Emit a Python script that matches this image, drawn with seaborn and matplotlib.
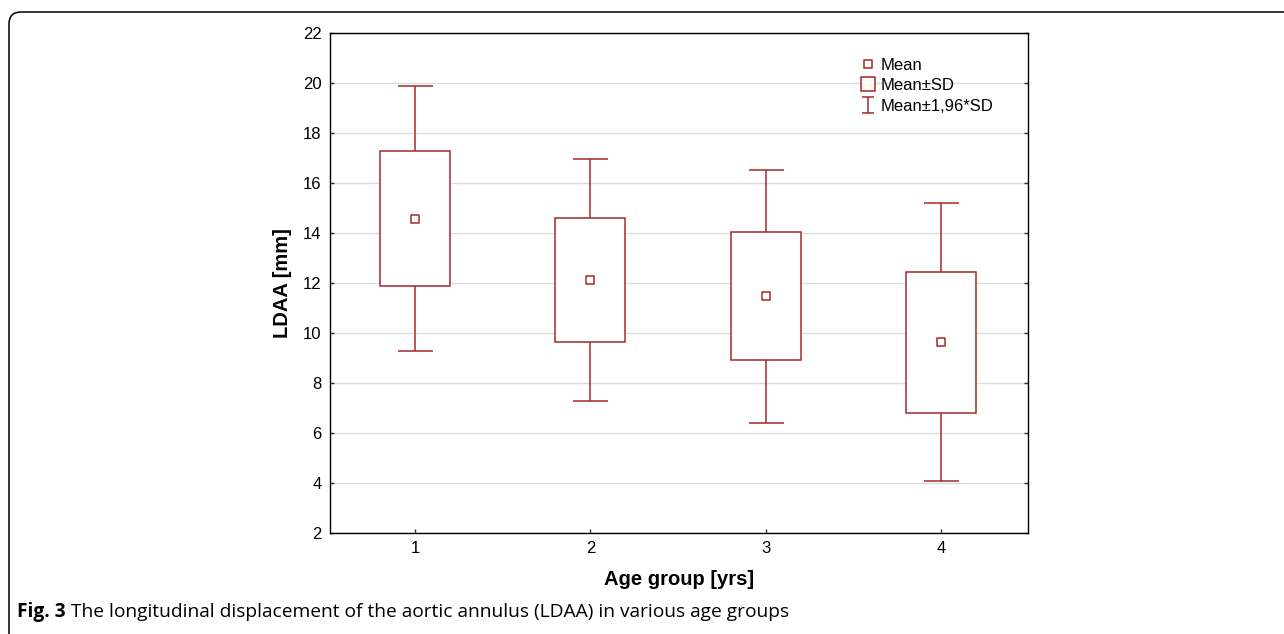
import numpy as np
import pandas as pd
import seaborn as sns
import matplotlib.pyplot as plt
from matplotlib.lines import Line2D
from matplotlib.patches import FancyBboxPatch
from matplotlib.transforms import IdentityTransform

# Values (LDAA, mm)
age_groups = [1, 2, 3, 4]
means = [14.58, 12.13, 11.47, 9.63]
sd_low = [11.88, 9.66, 8.92, 6.81]
sd_high = [17.28, 14.60, 14.04, 12.46]
ci_low = [9.28, 7.30, 6.42, 4.07]
ci_high = [19.88, 16.95, 16.52, 15.19]

df = pd.DataFrame({"group": age_groups, "mean": means,
                   "sd_low": sd_low, "sd_high": sd_high,
                   "ci_low": ci_low, "ci_high": ci_high})

red = "#a52a2a"
sns.set_style("ticks")
plt.rcParams["font.family"] = ["Liberation Sans", "DejaVu Sans"]
plt.rcParams.update({"text.color": "black", "axes.labelcolor": "black",
                     "xtick.color": "black", "ytick.color": "black"})

fig = plt.figure(figsize=(12.84, 6.34), dpi=100)
ax = fig.add_axes([0.257, 0.1593, 0.5436, 0.7886])

# whiskers: mean +- 1.96*SD
ax.errorbar(df["group"], df["mean"],
            yerr=[df["mean"] - df["ci_low"], df["ci_high"] - df["mean"]],
            fmt="none", ecolor=red, elinewidth=1.1, capsize=12.6, capthick=1.1, zorder=2)

# boxes: mean +- SD
ax.bar(df["group"], df["sd_high"] - df["sd_low"], bottom=df["sd_low"], width=0.4,
       facecolor="white", edgecolor=red, linewidth=1.1, zorder=3)

# mean markers
sns.scatterplot(data=df, x="group", y="mean", ax=ax, marker="s", s=40,
                facecolor="white", edgecolor=red, linewidth=1.1, zorder=4)

ax.set_xlim(0.515, 4.495)
ax.set_ylim(2, 22)
ax.set_xticks(age_groups)
ax.set_yticks(np.arange(2, 23, 2))
ax.grid(axis="y", color="#dcdcdc", linewidth=1)
ax.set_axisbelow(True)
for sp in ax.spines.values():
    sp.set_visible(True)
    sp.set_color("black")
    sp.set_linewidth(1)
ax.tick_params(axis="both", labelsize=12, length=3, width=1, color="#333333",
               labelcolor="black", direction="in", pad=6)
ax.tick_params(axis="y", right=True)
ax.set_xlabel("Age group [yrs]", fontsize=14.5, fontweight="bold", labelpad=10)
ax.set_ylabel("LDAA [mm]", fontsize=14.5, fontweight="bold", labelpad=8)

# legend
eb = ax.errorbar([np.nan], [np.nan], yerr=[1], fmt="none", ecolor=red,
                 elinewidth=1.1, capsize=4, capthick=1.1)
handles = [
    Line2D([], [], linestyle="none", marker="s", markersize=6, markerfacecolor="white",
           markeredgecolor=red, markeredgewidth=1.1),
    Line2D([], [], linestyle="none", marker="s", markersize=10, markerfacecolor="#fffaf3",
           markeredgecolor=red, markeredgewidth=1.1),
    eb,
]
ax.legend(handles, ["Mean", "Mean±SD", "Mean±1,96*SD"], loc="upper left",
          bbox_to_anchor=(0.742, 0.974), frameon=False, fontsize=12,
          handlelength=1.0, handletextpad=0.25, labelspacing=0.33, borderpad=0.2,
          labelcolor="black")

# caption
cap = fig.text(0.0135, 0.0347, "Fig. 3", fontsize=13.8, fontweight="bold",
               family=["Open Sans", "DejaVu Sans"], va="center")
ax.annotate(" The longitudinal displacement of the aortic annulus (LDAA) in various age groups",
            xy=(1, 0.5), xycoords=cap, va="center", fontsize=13.8,
            family=["Open Sans", "DejaVu Sans"], annotation_clip=False)

# rounded frame around the figure
frame = FancyBboxPatch((9, -40), 1320, 662, boxstyle="round,pad=0,rounding_size=12",
                       transform=IdentityTransform(), facecolor="none",
                       edgecolor="black", linewidth=1.1)
fig.patches.append(frame)

fig.savefig("out.png", dpi=100)
